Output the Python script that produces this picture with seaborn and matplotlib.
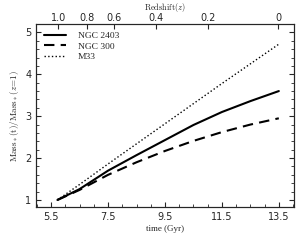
import numpy as np
import pandas as pd
import matplotlib
matplotlib.use('Agg')
import matplotlib.pyplot as plt
from matplotlib.ticker import MultipleLocator
import seaborn as sns

sns.set_style('ticks')
plt.rcParams['font.family'] = ['DejaVu Sans']
plt.rcParams['mathtext.fontset'] = 'cm'

# cosmic time (Gyr) from z=1 to z=0
time_gyr = [5.72, 6.5, 7.5, 8.5, 9.5, 10.5, 11.5, 12.5, 13.5]
ngc2403 = [1.00, 1.26, 1.70, 2.07, 2.43, 2.79, 3.10, 3.36, 3.60]
ngc300 = [1.00, 1.24, 1.60, 1.90, 2.17, 2.41, 2.62, 2.80, 2.95]
m33 = [1.00, 1.37, 1.86, 2.34, 2.82, 3.30, 3.78, 4.25, 4.72]

# redshift labels for the top axis and the time they sit at
z_labels = ['1.0', '0.8', '0.6', '0.4', '0.2', '0']
z_times = [5.75, 6.77, 7.72, 9.19, 11.02, 13.48]

galaxies = ['NGC 2403', 'NGC 300', 'M33']
dashes = ['-', (0, (5, 3)), ':']

df = pd.DataFrame({
    'time': time_gyr * 3,
    'mass': ngc2403 + ngc300 + m33,
    'galaxy': np.repeat(galaxies, len(time_gyr)),
})

fig = plt.figure(figsize=(3.03, 2.48), dpi=100)
ax = fig.add_axes([0.119, 0.165, 0.851, 0.738])

for name, ls, lw in zip(galaxies, dashes, [1.5, 1.5, 1.0]):
    sub = df[df['galaxy'] == name]
    sns.lineplot(data=sub, x='time', y='mass', ax=ax, color='black',
                 linestyle=ls, linewidth=lw, label=name)

ax.set_xlim(4.97, 14.03)
ax.set_ylim(0.83, 5.2)
ax.set_xticks([5.5, 7.5, 9.5, 11.5, 13.5])
ax.set_xticklabels(['5.5', '7.5', '9.5', '11.5', '13.5'])
ax.set_yticks([1, 2, 3, 4, 5])
ax.xaxis.set_minor_locator(MultipleLocator(0.5))
ax.yaxis.set_minor_locator(MultipleLocator(0.2))
ax.tick_params(which='both', direction='in', right=True, labelsize=7)
ax.tick_params(which='major', length=3.5, width=0.8)
ax.tick_params(which='minor', length=2, width=0.6)
ax.set_xlabel('time (Gyr)', family='Liberation Serif', fontsize=6.5, labelpad=2)
ax.set_ylabel(r'$\mathrm{Mass_*(t)/Mass_*}(z\!=\!1)$', fontsize=6.5, labelpad=3)

ax2 = ax.twiny()
ax2.set_xlim(ax.get_xlim())
ax2.set_xticks(z_times)
ax2.set_xticklabels(z_labels)
ax2.tick_params(which='both', direction='in', labelsize=7, length=3.5, width=0.8, pad=1)
ax2.set_xlabel(r'$\mathrm{Redshift}(z)$', fontsize=6, labelpad=2)

leg = ax.legend(loc='upper left', frameon=False, fontsize=6.8, handlelength=2.4,
                handletextpad=1.2, borderaxespad=0.4, labelspacing=0.2)
for t in leg.get_texts():
    t.set_family('Liberation Serif')

for a in (ax, ax2):
    for s in a.spines.values():
        s.set_linewidth(0.8)

fig.savefig('out.png', dpi=100)
